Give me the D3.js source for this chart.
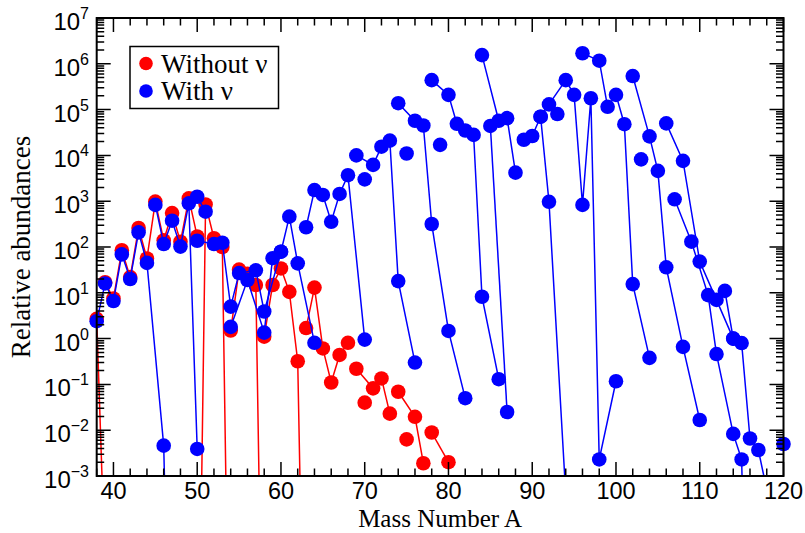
<!DOCTYPE html>
<html>
<head>
<meta charset="utf-8">
<script src="https://cdn.jsdelivr.net/npm/d3@7"></script>
<style>
  html, body { margin: 0; padding: 0; background: #fff; }
  svg { display: block; }
</style>
</head>
<body>
<svg id="chart" width="805" height="533"></svg>
<script>
// Isotope chains: each inner list is one element's isotopes as [mass number A, relative abundance].
// Abundances far below the axis floor only set where a chain's line leaves the frame.
const chainsWithoutNu = [
  [[38, 2.7], [39, 1e-5]],
  [[39, 17], [40, 7.5], [41, 85], [42, 22], [43, 260], [44, 56], [45, 980], [46, 140], [47, 550], [48, 130], [49, 1150], [50, 170]],
  [[50, 1e-10], [51, 850], [52, 155], [53, 100], [54, 1e-10]],
  [[54, 1.5], [55, 32], [56, 26], [57, 14.8], [58, 1e-10]],
  [[58, 1.1], [59, 14.8], [60, 34], [61, 10.5], [62, 0.32], [63, 1e-10]],
  [[63, 1.7], [64, 13], [65, 0.61], [66, 0.11], [67, 0.44], [68, 0.81]],
  [[69, 0.22], [71, 0.082], [72, 0.135], [73, 0.023]],
  [[70, 0.040]],
  [[74, 0.069], [76, 0.0196], [77, 1.9e-3]],
  [[75, 6.3e-3]],
  [[78, 8.9e-3], [80, 2.0e-3]]
];

const chainsWithNu = [
  [[38, 2.4], [39, 16], [40, 6.6], [41, 69], [42, 20], [43, 209], [44, 45], [46, 4.6e-3], [47, 1e-10]],
  [[45, 830], [46, 116], [47, 375], [48, 102], [49, 900], [50, 3.9e-3]],
  [[50, 1250], [51, 590]],
  [[50, 137], [52, 116], [53, 124], [54, 5], [55, 27], [57, 31], [58, 3.9], [60, 79], [61, 460], [62, 44], [64, 0.81]],
  [[54, 1.8], [56, 19], [58, 1.35], [59, 57], [60, 79]],
  [[63, 270], [64, 1750], [65, 1370], [66, 355], [67, 1440], [68, 3700], [70, 0.95]],
  [[69, 1.0e4], [71, 6200], [72, 1.55e4], [73, 2.1e4], [74, 18], [76, 0.30]],
  [[70, 3000]],
  [[74, 1.38e5], [76, 5.7e4], [77, 4.5e4], [78, 318], [80, 1.47], [82, 0.05]],
  [[75, 1.1e4]],
  [[78, 4.4e5], [80, 2.1e5], [81, 4.9e4], [82, 3.5e4], [83, 2.8e4], [84, 8.2], [86, 0.13]],
  [[79, 1.7e4]],
  [[84, 1.55e6], [86, 5.7e4], [87, 6.5e4], [88, 4200]],
  [[85, 4.4e4], [87, 0.025]],
  [[89, 2.2e4], [90, 2.65e4], [91, 7.0e4], [92, 970], [94, 4e-4]],
  [[91, 7.0e4], [92, 1.3e5], [94, 4.4e5], [95, 2.1e5], [96, 830], [97, 1.77e5], [98, 2.3e-3], [100, 0.117]],
  [[93, 8.0e4]],
  [[96, 1.7e6], [98, 1.17e6], [99, 1.15e5], [100, 2.1e5], [101, 4.8e4], [102, 15.5], [104, 0.38]],
  [[102, 5.4e5], [104, 2.6e4], [105, 4600], [106, 36], [108, 0.66], [110, 0.0167]],
  [[103, 8200]],
  [[106, 5.0e4], [108, 7600], [110, 48], [112, 7], [114, 1.0], [115, 0.8], [116, 6.6e-3], [117, 3.7e-3], [118, 5e-4]],
  [[107, 1100], [109, 131], [111, 8.9], [112, 0.46], [114, 8.3e-3], [115, 2.3e-3], [116, 1e-10]],
  [[113, 11], [114, 1.0]],
  [[120, 5e-3]]
];

const massTicks = [40, 50, 60, 70, 80, 90, 100, 110, 120];
const decadeExponents = [-3, -2, -1, 0, 1, 2, 3, 4, 5, 6, 7];
const legendLabels = ["Without \u03bd", "With \u03bd"];
const seriesColors = ["#ff0000", "#0000ff"];

const svg = d3.select("#chart");
const plotLeft = 96.7, plotRight = 783.5, plotTop = 18, plotBottom = 476;

const x = d3.scaleLinear().domain([38, 120]).range([plotLeft, plotRight]);
const y = d3.scaleLog().domain([1e-3, 1e7]).range([plotBottom, plotTop]);

svg.append("defs").append("clipPath").attr("id", "plotClip")
  .append("rect").attr("x", plotLeft).attr("y", plotTop)
  .attr("width", plotRight - plotLeft).attr("height", plotBottom - plotTop);

const line = d3.line().x(d => x(d[0])).y(d => y(d[1]));
const inDomain = d => d[0] >= 38 && d[0] <= 120 && d[1] >= 1e-3 && d[1] <= 1e7;

function drawSeries(chains, color) {
  const g = svg.append("g");
  g.append("g").attr("clip-path", "url(#plotClip)")
    .selectAll("path").data(chains.filter(c => c.length > 1)).join("path")
    .attr("d", line).attr("fill", "none")
    .attr("stroke", color).attr("stroke-width", 1.5);
  g.append("g").selectAll("circle")
    .data(chains.flat().filter(inDomain)).join("circle")
    .attr("cx", d => x(d[0])).attr("cy", d => y(d[1]))
    .attr("r", 7.3).attr("fill", color);
}

drawSeries(chainsWithoutNu, seriesColors[0]);
drawSeries(chainsWithNu, seriesColors[1]);

// Frame and ticks (inward on all four sides)
const axes = svg.append("g").attr("stroke", "#000").attr("fill", "none");
axes.append("rect").attr("x", plotLeft).attr("y", plotTop)
  .attr("width", plotRight - plotLeft).attr("height", plotBottom - plotTop).attr("stroke-width", 2);

const xMinor = d3.range(38, 121, 2).filter(v => v % 10 !== 0);
const tickPath = [];
massTicks.forEach(v => {
  tickPath.push(`M${x(v)},${plotBottom}v-14`, `M${x(v)},${plotTop}v14`);
});
xMinor.forEach(v => {
  tickPath.push(`M${x(v)},${plotBottom}v-7.5`, `M${x(v)},${plotTop}v7.5`);
});
decadeExponents.forEach(e => {
  const yy = y(Math.pow(10, e));
  tickPath.push(`M${plotLeft},${yy}h14`, `M${plotRight},${yy}h-14`);
  if (e < 7) {
    for (let m = 2; m <= 9; m++) {
      const ym = y(m * Math.pow(10, e));
      tickPath.push(`M${plotLeft},${ym}h7.5`, `M${plotRight},${ym}h-7.5`);
    }
  }
});
axes.append("path").attr("d", tickPath.join("")).attr("stroke-width", 1.5);

// Tick labels
const sans = "'Liberation Sans', Arial, Helvetica, sans-serif";
const serif = "'Liberation Serif', 'Times New Roman', serif";

svg.append("g").selectAll("text").data(massTicks).join("text")
  .attr("x", d => x(d)).attr("y", 499)
  .attr("text-anchor", "middle")
  .attr("font-family", sans).attr("font-size", 23.5)
  .text(d => d);

const yl = svg.append("g").selectAll("text").data(decadeExponents).join("text")
  .attr("x", 89).attr("y", d => y(Math.pow(10, d)) + 12)
  .attr("text-anchor", "end")
  .attr("font-family", sans).attr("font-size", 24);
yl.append("tspan").text("10");
yl.append("tspan").attr("font-size", 16).attr("dy", -11)
  .text(d => d < 0 ? "\u2212" + Math.abs(d) : d);

// Axis titles
svg.append("text").attr("x", (plotLeft + plotRight) / 2).attr("y", 526.5)
  .attr("text-anchor", "middle").attr("font-family", serif).attr("font-size", 25)
  .text("Mass Number A");
svg.append("text").attr("transform", "translate(30,247) rotate(-90)")
  .attr("text-anchor", "middle").attr("font-family", serif).attr("font-size", 27)
  .text("Relative abundances");

// Legend
const lg = svg.append("g");
lg.append("rect").attr("x", 130).attr("y", 46.5).attr("width", 148.5).attr("height", 62)
  .attr("fill", "#fff").attr("stroke", "#000").attr("stroke-width", 1.5);
legendLabels.forEach((t, i) => {
  const cy = 63.5 + i * 27.5;
  lg.append("circle").attr("cx", 146).attr("cy", cy).attr("r", 6.8).attr("fill", seriesColors[i]);
  lg.append("text").attr("x", 161).attr("y", cy + 9)
    .attr("font-family", serif).attr("font-size", 27).text(t);
});
</script>
</body>
</html>
